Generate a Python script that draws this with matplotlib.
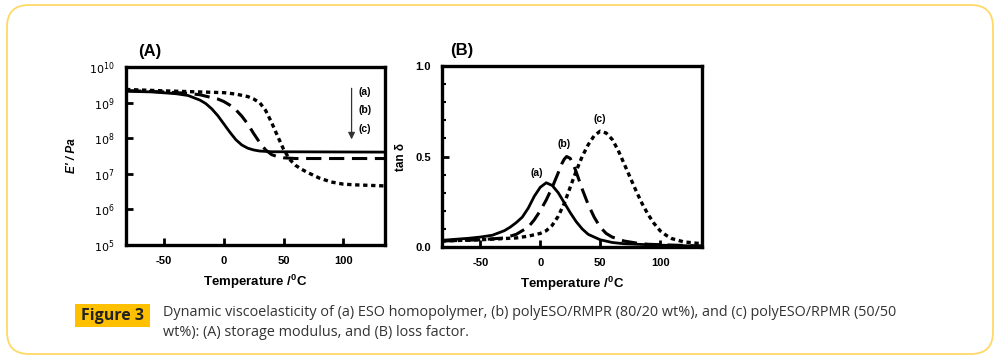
import numpy as np
import matplotlib.pyplot as plt
from matplotlib.patches import FancyBboxPatch, Rectangle
from matplotlib.transforms import IdentityTransform

# (A) storage modulus, log10(E' / Pa)
temp_a = [-82, -60, -40, -30, -20, -15, -10, -5, 0, 5, 10, 15, 20, 25, 30, 40, 135]
logE_a = [9.32, 9.30, 9.25, 9.20, 9.07, 8.97, 8.82, 8.63, 8.40, 8.17, 7.96, 7.81, 7.72, 7.67, 7.64, 7.62, 7.61]
temp_b = [-82, -50, -30, -20, -10, -5, 0, 5, 10, 15, 20, 25, 30, 35, 40, 45, 50, 60, 135]
logE_b = [9.34, 9.30, 9.26, 9.22, 9.14, 9.10, 9.03, 8.93, 8.80, 8.62, 8.40, 8.13, 7.88, 7.67, 7.54, 7.48, 7.45, 7.43, 7.43]
temp_c = [-82, -50, -20, 0, 10, 20, 25, 30, 35, 40, 45, 50, 55, 60, 65, 70, 80, 90, 100, 110, 135]
logE_c = [9.37, 9.33, 9.30, 9.28, 9.24, 9.17, 9.10, 9.00, 8.78, 8.44, 8.06, 7.69, 7.41, 7.24, 7.13, 7.04, 6.88, 6.77, 6.71, 6.69, 6.66]

# (B) loss factor, tan delta
tt_a = [-82, -60, -50, -40, -30, -25, -20, -15, -10, -5, 0, 5, 10, 15, 20, 25, 30, 35, 40, 50, 60, 70, 100, 135]
tan_a = [0.037, 0.048, 0.055, 0.065, 0.09, 0.11, 0.135, 0.165, 0.215, 0.28, 0.33, 0.355, 0.34, 0.30,
         0.245, 0.19, 0.14, 0.10, 0.07, 0.04, 0.025, 0.018, 0.01, 0.005]
tt_b = [-82, -50, -30, -20, -10, -5, 0, 5, 10, 15, 18, 20, 22, 25, 28, 30, 35, 40, 45, 50, 55, 60, 70, 80, 90, 135]
tan_b = [0.033, 0.04, 0.05, 0.07, 0.11, 0.15, 0.20, 0.26, 0.33, 0.41, 0.46, 0.485, 0.50, 0.49, 0.45, 0.415,
         0.32, 0.235, 0.165, 0.11, 0.075, 0.055, 0.033, 0.022, 0.015, 0.005]
tt_c = [-82, -50, -20, -10, 0, 5, 10, 15, 20, 25, 30, 35, 40, 45, 50, 55, 60, 65, 70, 75, 80, 85, 90, 95,
        100, 105, 110, 120, 135]
tan_c = [0.033, 0.04, 0.05, 0.06, 0.075, 0.09, 0.12, 0.17, 0.24, 0.33, 0.42, 0.50, 0.565, 0.615, 0.64, 0.63,
         0.595, 0.535, 0.46, 0.385, 0.31, 0.24, 0.18, 0.13, 0.09, 0.065, 0.046, 0.028, 0.018]

caption = ["Dynamic viscoelasticity of (a) ESO homopolymer, (b) polyESO/RMPR (80/20 wt%), and (c) polyESO/RPMR (50/50",
           "wt%): (A) storage modulus, and (B) loss factor."]

plt.rcParams['font.family'] = ['Liberation Sans', 'DejaVu Sans']
plt.rcParams['axes.unicode_minus'] = False

fig = plt.figure(figsize=(10, 3.59), dpi=100)

# rounded frame around everything
frame = FancyBboxPatch((7, 5), 986, 349, boxstyle="round,pad=0,rounding_size=22",
                       transform=IdentityTransform(), fill=False, ec='#FFD966', lw=1.3)
fig.patches.append(frame)

styles = [dict(color='black', lw=2.0, ls='-'),
          dict(color='black', lw=2.2, ls=(0, (5, 2.5))),
          dict(color='black', lw=2.4, ls=(0, (1.3, 1.1)))]

# ---- panel A
axA = fig.add_axes([0.126, 0.3175, 0.259, 0.4958])
for x, y, st in zip([temp_a, temp_b, temp_c], [logE_a, logE_b, logE_c], styles):
    axA.plot(x, np.power(10.0, y), **st)
axA.set_yscale('log')
axA.set_ylim(1e5, 1e10)
axA.set_xlim(-82, 135)
axA.set_xticks([-50, 0, 50, 100])
axA.set_yticks([1e5, 1e6, 1e7, 1e8, 1e9, 1e10])
axA.set_yticklabels([r'$10^{%d}$' % k for k in range(5, 11)])
axA.minorticks_off()
axA.set_xlabel('Temperature /$^{\\mathregular{0}}$C', fontsize=9.5, fontweight='bold', labelpad=5)
axA.set_ylabel("E' / Pa", fontsize=8.5, fontweight='bold', style='italic', labelpad=8)
axA.text(0.045, 1.06, '(A)', transform=axA.transAxes, fontsize=12, fontweight='bold')
axA.annotate('', xy=(107, 10**7.89), xytext=(107, 10**9.48),
             arrowprops=dict(arrowstyle='-|>', color='#333333', lw=0.9, mutation_scale=10))
for lab, yv in zip(['(a)', '(b)', '(c)'], [9.29, 8.78, 8.25]):
    axA.text(113, 10**yv, lab, fontsize=7.5, fontweight='bold', va='center')

# ---- panel B
axB = fig.add_axes([0.442, 0.312, 0.260, 0.504])
for x, y, st in zip([tt_a, tt_b, tt_c], [tan_a, tan_b, tan_c], styles):
    axB.plot(x, y, **st)
axB.set_xlim(-82, 135)
axB.set_ylim(0, 1.0)
axB.set_xticks([-50, 0, 50, 100])
axB.set_yticks([0.0, 0.5, 1.0])
axB.set_yticks(np.arange(0, 1.01, 0.1), minor=True)
axB.set_xlabel('Temperature /$^{\\mathregular{0}}$C', fontsize=9.5, fontweight='bold', labelpad=5)
axB.set_ylabel('tan δ', fontsize=8.5, fontweight='bold', labelpad=6)
axB.text(0.03, 1.06, '(B)', transform=axB.transAxes, fontsize=12, fontweight='bold')
for lab, xv, yv in zip(['(a)', '(b)', '(c)'], [-3, 20, 50], [0.41, 0.57, 0.71]):
    axB.text(xv, yv, lab, fontsize=7.5, fontweight='bold', ha='center', va='center')

for ax in (axA, axB):
    for sp in ax.spines.values():
        sp.set_linewidth(2.4)
    ax.tick_params(which='major', direction='in', length=5, width=2, labelsize=8, pad=8)
    ax.tick_params(which='minor', direction='in', length=3, width=1.5)
    ax.tick_params(axis='y', which='minor', right=False)
    for t in ax.get_xticklabels() + ax.get_yticklabels():
        t.set_fontweight('bold')

# ---- caption
fig.patches.append(Rectangle((75, 32), 75, 23, transform=IdentityTransform(),
                             fc='#FFC000', ec='none'))
fig.text(112.5 / 1000, 43.5 / 359, 'Figure 3', fontsize=11.5, fontweight='bold',
         ha='center', va='center', color='#222222', family=['Open Sans', 'DejaVu Sans'])
fig.text(163 / 1000, 46 / 359, caption[0], fontsize=10.4, color='#333333',
         va='center', family=['Open Sans', 'DejaVu Sans'])
fig.text(163 / 1000, 26 / 359, caption[1], fontsize=10.4, color='#333333',
         va='center', family=['Open Sans', 'DejaVu Sans'])

fig.savefig('out.png', dpi=100)
